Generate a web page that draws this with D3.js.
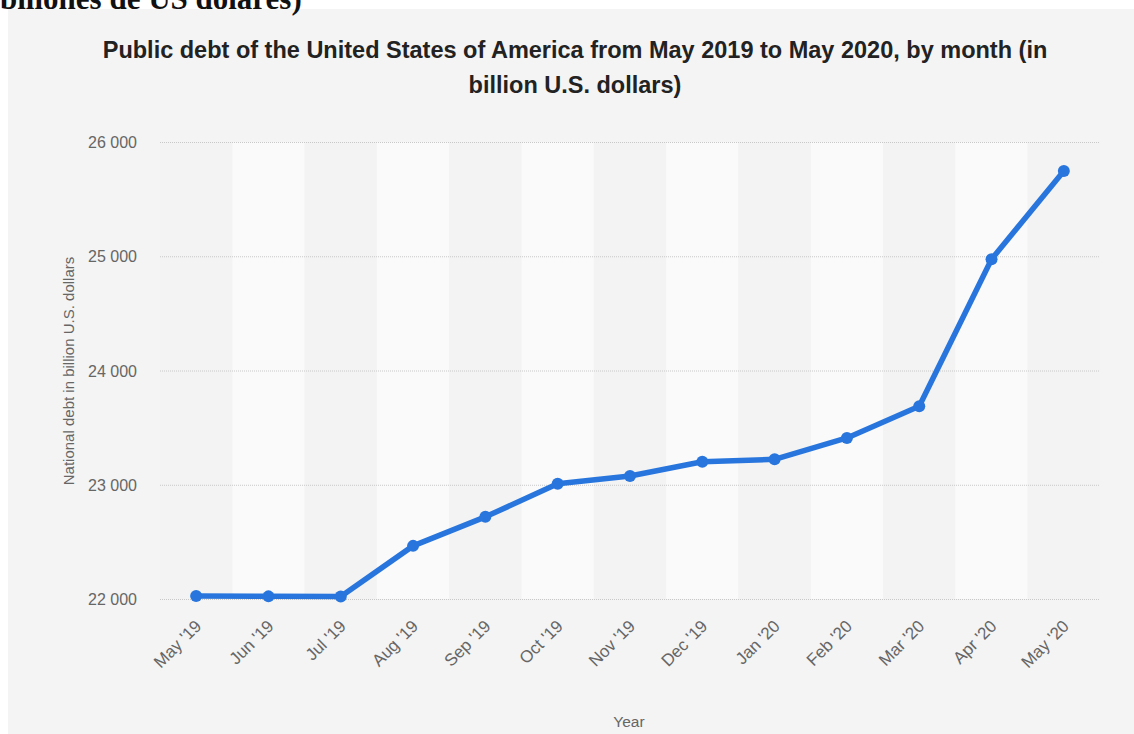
<!DOCTYPE html>
<html>
<head>
<meta charset="utf-8">
<script src="https://cdn.jsdelivr.net/npm/d3@7"></script>
<style>
  html, body { margin: 0; padding: 0; background: #fff; }
  svg { display: block; }
</style>
</head>
<body>
<div id="chart"></div>
<script>
const months = ["May '19", "Jun '19", "Jul '19", "Aug '19", "Sep '19", "Oct '19", "Nov '19",
  "Dec '19", "Jan '20", "Feb '20", "Mar '20", "Apr '20", "May '20"];
const debt = [22027, 22023, 22022, 22465, 22719, 23008, 23076, 23201, 23223, 23410, 23687, 24974, 25746];
const yTicks = [22000, 23000, 24000, 25000, 26000];

const width = 1134, height = 734;
const margin = { top: 142, right: 34, bottom: 135, left: 160 };
const plotBottom = 599;
const font = "'Liberation Sans', Arial, sans-serif";

const svg = d3.select('#chart')
  .append('svg')
  .attr('width', width)
  .attr('height', height);

// panel
svg.append('rect')
  .attr('x', 8).attr('y', 9)
  .attr('width', width - 8).attr('height', height - 9)
  .attr('fill', '#f4f4f4');

// cropped caption line above the panel
svg.append('text')
  .attr('x', 0).attr('y', 9)
  .attr('font-family', "'Liberation Serif', serif")
  .attr('font-size', 31)
  .attr('font-weight', 'bold')
  .attr('fill', '#111')
  .text('billones de US dólares)');

const x = d3.scaleBand()
  .domain(months)
  .range([margin.left, width - margin.right]);

const y = d3.scaleLinear()
  .domain([22000, 26000])
  .range([plotBottom, margin.top]);

// alternating bands
svg.append('g')
  .selectAll('rect')
  .data(months)
  .join('rect')
  .attr('x', d => x(d))
  .attr('y', margin.top)
  .attr('width', x.bandwidth())
  .attr('height', plotBottom - margin.top)
  .attr('fill', (d, i) => i % 2 ? '#fafafa' : '#f3f3f3');

// gridlines
svg.append('g')
  .selectAll('line')
  .data(yTicks)
  .join('line')
  .attr('x1', margin.left)
  .attr('x2', width - margin.right)
  .attr('y1', d => y(d) + 0.5)
  .attr('y2', d => y(d) + 0.5)
  .attr('stroke', '#c8c8c8')
  .attr('stroke-width', 1)
  .attr('stroke-dasharray', '1,1');

// y axis labels
const fmt = d => d3.format(',')(d).replace(',', ' ');
svg.append('g')
  .attr('transform', 'translate(137,0)')
  .call(d3.axisLeft(y).tickValues(yTicks).tickFormat(fmt).tickSize(0).tickPadding(0))
  .call(g => g.select('.domain').remove())
  .call(g => g.selectAll('text')
    .attr('font-family', font)
    .attr('font-size', 16)
    .attr('fill', '#666')
    .attr('dy', '0.35em'));

// x axis labels
svg.append('g')
  .attr('transform', 'translate(0,623)')
  .call(d3.axisBottom(x).tickSize(0).tickPadding(0))
  .call(g => g.select('.domain').remove())
  .call(g => g.selectAll('text')
    .attr('font-family', font)
    .attr('font-size', 17)
    .attr('fill', '#666')
    .attr('text-anchor', 'end')
    .attr('dy', '0.35em')
    .attr('transform', 'translate(2,0) rotate(-45)'));

// axis titles
svg.append('text')
  .attr('transform', 'translate(74,371) rotate(-90)')
  .attr('text-anchor', 'middle')
  .attr('font-family', font)
  .attr('font-size', 15)
  .attr('fill', '#666')
  .text('National debt in billion U.S. dollars');

svg.append('text')
  .attr('x', 629).attr('y', 727)
  .attr('text-anchor', 'middle')
  .attr('font-family', font)
  .attr('font-size', 15.5)
  .attr('fill', '#666')
  .text('Year');

// title
const title = svg.append('text')
  .attr('text-anchor', 'middle')
  .attr('font-family', font)
  .attr('font-size', 23.5)
  .attr('font-weight', 'bold')
  .attr('fill', '#222');
title.append('tspan').attr('x', 575).attr('y', 58)
  .text('Public debt of the United States of America from May 2019 to May 2020, by month (in');
title.append('tspan').attr('x', 575).attr('y', 93)
  .text('billion U.S. dollars)');

// line
const cx = (d, i) => x(months[i]) + x.bandwidth() / 2;
const line = d3.line()
  .x(cx)
  .y(d => y(d));

svg.append('path')
  .datum(debt)
  .attr('d', line)
  .attr('fill', 'none')
  .attr('stroke', '#2876dd')
  .attr('stroke-width', 5.5)
  .attr('stroke-linejoin', 'round');

svg.append('g')
  .selectAll('circle')
  .data(debt)
  .join('circle')
  .attr('cx', cx)
  .attr('cy', d => y(d))
  .attr('r', 6)
  .attr('fill', '#2876dd');
</script>
</body>
</html>
